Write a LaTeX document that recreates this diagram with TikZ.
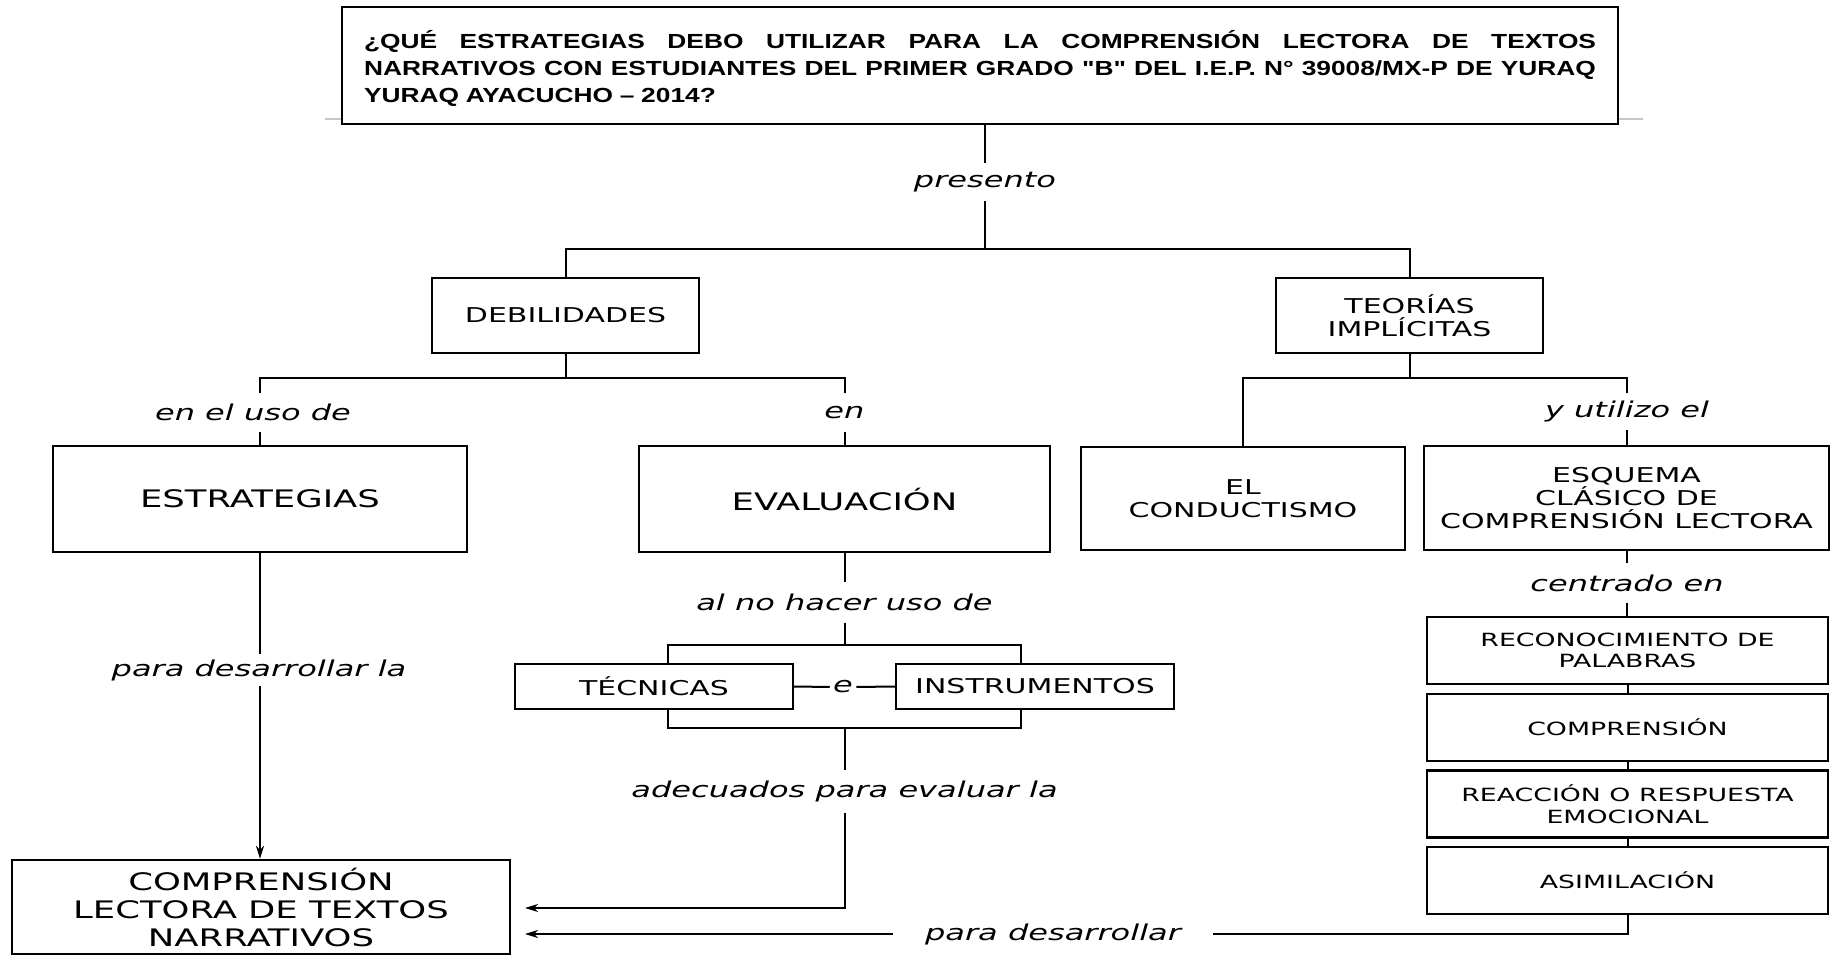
\documentclass[tikz,border=0pt]{standalone}
\usepackage{fontspec}
\usetikzlibrary{arrows.meta}
\newfontfamily\BodyFont[FakeStretch=1.47]{DejaVu Sans}
\newfontfamily\TitleFont[FakeStretch=1.29]{Liberation Sans}
\newcommand\FBig{\BodyFont\fontsize{12.05}{14}\selectfont}
\newcommand\FMed{\BodyFont\fontsize{10.2}{11.6}\selectfont}
\newcommand\FSmall{\BodyFont\fontsize{9.1}{10.85}\selectfont}
\newcommand\FLbl{\BodyFont\itshape\fontsize{10.9}{12}\selectfont}
\newcommand\FTitle{\TitleFont\bfseries\fontsize{10.2}{13.4}\selectfont}
\newcommand\JLine[1]{\makebox[616pt][s]{\spaceskip=0.278em plus 1fil\xspaceskip=0.278em plus 1fil #1}}
\tikzset{
  box/.style={draw, line width=1.2pt, align=center, inner sep=0pt, text=black},
  bigbox/.style={box, font=\FBig},
  medbox/.style={box, font=\FMed},
  smallbox/.style={box, font=\FSmall, minimum width=200.5pt, minimum height=33.5pt},
  lbl/.style={inner xsep=1pt, inner ysep=0pt, font=\FLbl, text=black},
  ln/.style={line width=1pt},
  arr/.style={line width=1pt, -{Stealth[length=6.5pt,width=4pt,inset=2pt]}}
}
\begin{document}
\begin{tikzpicture}[x=0.5pt, y=-0.5pt]
\useasboundingbox (0,0) rectangle (1831,956);
% faint line behind the title
\draw[gray!45, line width=1pt] (325,119) -- (1643,119);
% title
\node[box, line width=1.4pt, fill=white, minimum width=638pt, minimum height=58.5pt,
      text width=616pt, align=left, font=\FTitle] (title) at (980,65.5)
  {\rule{0pt}{12pt}\JLine{¿QUÉ ESTRATEGIAS DEBO UTILIZAR PARA LA COMPRENSIÓN LECTORA DE TEXTOS}\\
   \JLine{NARRATIVOS CON ESTUDIANTES DEL PRIMER GRADO "B" DEL I.E.P. N° 39008/MX-P DE YURAQ}\\
   YURAQ AYACUCHO – 2014?};
% boxes
\node[medbox, minimum width=133.5pt, minimum height=37.5pt] (deb) at (565.5,315.5) {DEBILIDADES};
\node[medbox, minimum width=133.5pt, minimum height=37.5pt] (teo) at (1409.5,315.5) {TEORÍAS\\IMPLÍCITAS};
\node[bigbox, minimum width=207pt, minimum height=53pt] (estr) at (260,499) {ESTRATEGIAS};
\node[bigbox, minimum width=205.5pt, minimum height=53pt] (eval) at (844.5,499) {EVALUACIÓN};
\node[medbox, minimum width=162pt, minimum height=51.5pt] (cond) at (1243,498.5) {EL\\CONDUCTISMO};
\node[medbox, minimum width=202.5pt, minimum height=52pt] (esq) at (1626.5,498) {ESQUEMA\\CLÁSICO DE\\COMPRENSIÓN LECTORA};
\node[medbox, minimum width=139pt, minimum height=22.5pt] (tec) at (654,686.5) {TÉCNICAS};
\node[medbox, minimum width=139pt, minimum height=22.5pt] (ins) at (1035,686.5) {INSTRUMENTOS};
\node[smallbox] (rec) at (1627.5,650.5) {RECONOCIMIENTO DE\\PALABRAS};
\node[smallbox] (comp) at (1627.5,727.5) {COMPRENSIÓN};
\node[smallbox] (reac) at (1627.5,804) {REACCIÓN O RESPUESTA\\EMOCIONAL};
\node[smallbox] (asim) at (1627.5,880.5) {ASIMILACIÓN};
\node[bigbox, minimum width=249pt, minimum height=47pt] (cl) at (261,907) {COMPRENSIÓN\\LECTORA DE TEXTOS\\NARRATIVOS};
% labels
\node[lbl, minimum height=19pt] (presento) at (985,182) {presento};
\node[lbl, minimum height=19.5pt] (enuso) at (253,412.5) {en el uso de};
\node[lbl, minimum height=19.5pt] (en) at (844.5,412.5) {en};
\node[lbl, minimum height=18.5pt] (yutil) at (1627,411.5) {y utilizo el};
\node[lbl, minimum height=20.5pt] (alno) at (844.5,602.5) {al no hacer uso de};
\node[lbl, minimum height=20pt] (centr) at (1627,583) {centrado en};
\node[lbl, minimum height=21.5pt] (adec) at (844.5,791.5) {adecuados para evaluar la};
\node[lbl, inner xsep=1.5pt] (e) at (843,687) {e};
% coordinates
\coordinate (top) at (985,249);
\coordinate (brL) at (565.5,378);
\coordinate (brR) at (1409.5,378);
\coordinate (bt) at (844.5,645);
\coordinate (bb) at (844.5,728);
\coordinate (a1) at (525,908);
\coordinate (a2) at (525,934);
% connectors: top
\draw[ln] (presento.north |- title.south) -- (presento.north);
\draw[ln] (presento.south) -- (top);
\draw[ln] (deb.north) |- (teo.north |- top) -- (teo.north);
% left branch
\draw[ln] (deb.south) -- (brL);
\draw[ln] (estr.north |- enuso.north) |- (eval.north |- brL) -- (eval.north |- en.north);
\draw[ln] (estr.north |- enuso.south) -- (estr.north);
\draw[ln] (eval.north |- en.south) -- (eval.north);
% right branch
\draw[ln] (teo.south) -- (brR);
\draw[ln] (cond.north) |- (yutil.north |- brR) -- (yutil.north);
\draw[ln] (yutil.south) -- (yutil.south |- esq.north);
% evaluation chain
\draw[ln] (eval.south) -- (alno.north);
\draw[ln] (alno.south) -- (bt);
\draw[ln] ([xshift=7pt]tec.north) |- (bt) -| ([xshift=-7pt]ins.north);
\draw[ln] (tec.east) -- (e.west);
\draw[ln] (e.east) -- (ins.west);
\draw[ln] ([xshift=7pt]tec.south) |- (bb) -| ([xshift=-7pt]ins.south);
\draw[ln] (bb) -- (adec.north);
\draw[arr] (adec.south) |- (a1);
% strategies arrow
\draw[arr] (estr.south) -- (estr.south |- cl.north);
\node[lbl, fill=white, minimum height=16pt] (pdesla) at (259,670) {para desarrollar la};
% schema chain
\draw[ln] (centr.north |- esq.south) -- (centr.north);
\draw[ln] (centr.south) -- (centr.south |- rec.north);
\draw[ln] (rec.south) -- (comp.north);
\draw[ln] (comp.south) -- (reac.north);
\draw[ln] (reac.south) -- (asim.north);
\draw[arr] (asim.south) |- (a2);
\node[lbl, fill=white, inner xsep=16pt, inner ysep=2pt] (pdes) at (1053,934) {para desarrollar};
\end{tikzpicture}
\end{document}
